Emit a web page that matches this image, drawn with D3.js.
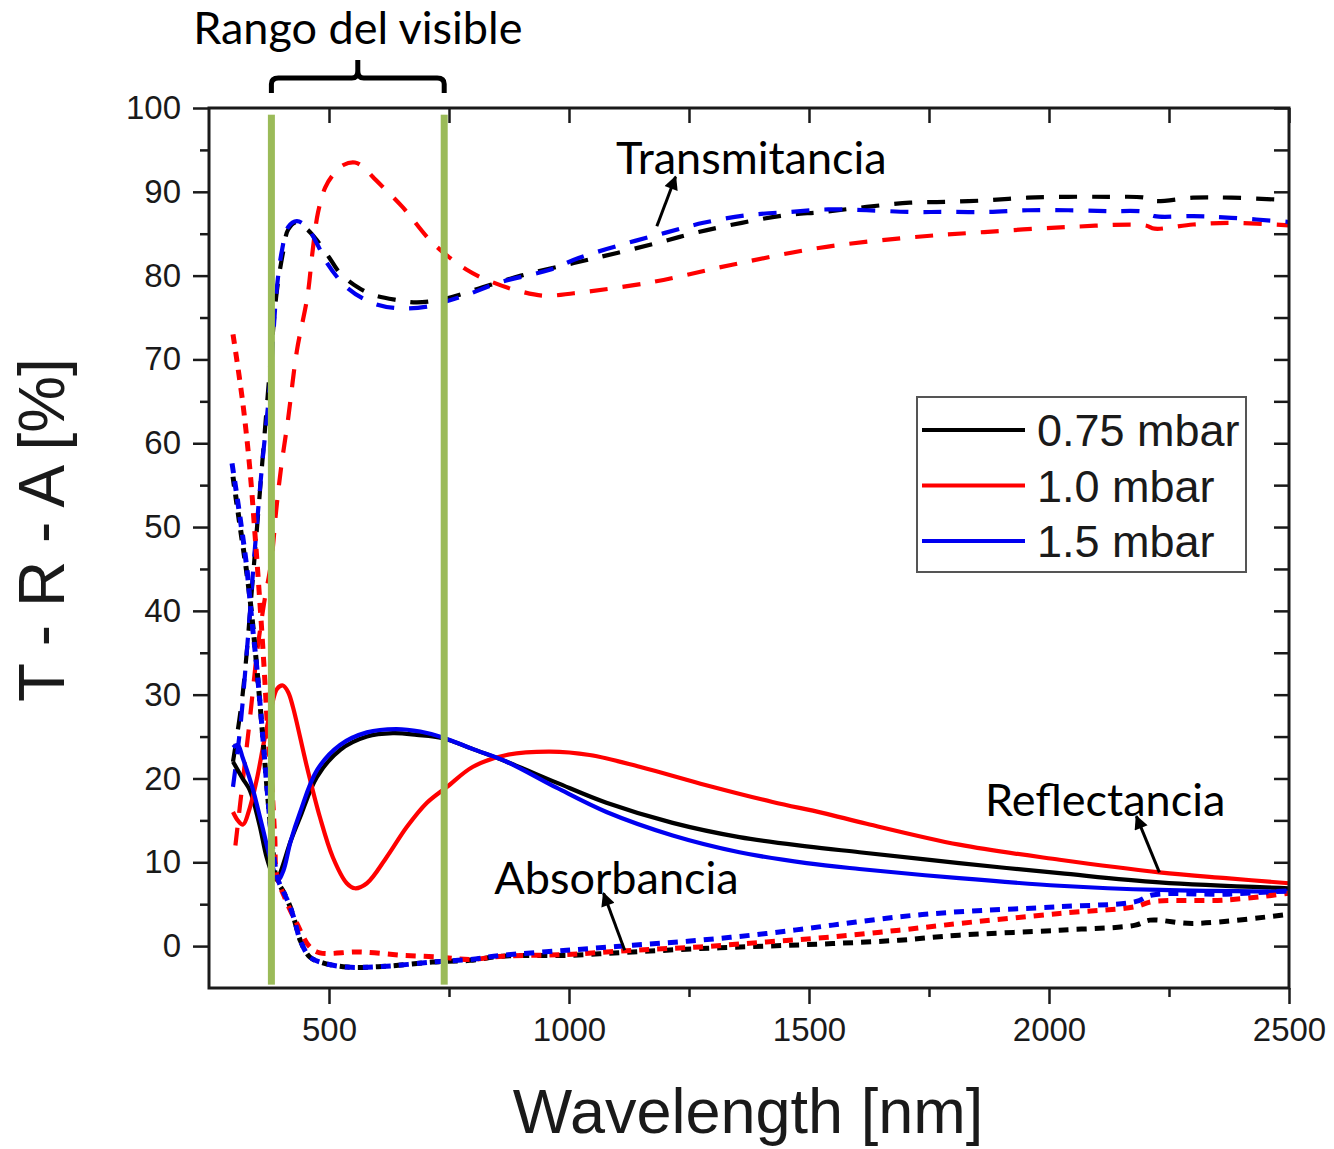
<!DOCTYPE html>
<html>
<head>
<meta charset="utf-8">
<script src="https://cdn.jsdelivr.net/npm/d3@7"></script>
<style>
    body { margin: 0; background: #fff; overflow: hidden; }
</style>
</head>
<body>
<svg id="main-svg" width="1334" height="1149"></svg>
<script>
'use strict';

// wavelength [nm], value [%]
const trans_075 = [[300,22],[320,30],[340,43],[360,57],[380,71],[391,78],[404,82.7],[415,85.5],[433,86.4],[455,85.5],[475,84.2],[500,82.2],[523,80.3],[560,78.6],[592,77.7],[640,77.1],[683,76.8],[746,77.3],[820,78.6],[900,80],[1010,81.5],[1100,82.7],[1190,84],[1270,85.2],[1360,86.3],[1450,87.2],[1530,87.6],[1620,88.2],[1710,88.7],[1790,88.8],[1875,89],[1955,89.3],[2040,89.4],[2125,89.4],[2200,89.3],[2220,88.9],[2300,89.3],[2380,89.3],[2500,89]];
const trans_100 = [[305,12],[320,19.5],[335,27],[350,35],[365,41],[380,46],[390,52],[400,57],[415,63],[433,71],[455,77.5],[466,83],[477,87.5],[492,90.5],[508,92],[530,93.2],[554,93.5],[575,92.8],[591,91.8],[653,88.2],[716,83.9],[787,80.7],[841,79.2],[900,78.1],[950,77.6],[1010,77.9],[1170,79.2],[1340,81.3],[1520,83.3],[1700,84.5],[1865,85.2],[2040,85.8],[2200,86],[2220,85.6],[2300,86.1],[2380,86.3],[2500,86]];
const trans_150 = [[300,19],[315,26],[330,36],[345,47],[360,57],[377,67],[391,78.3],[402,83],[415,85.8],[433,86.5],[454,85.8],[475,83.8],[496,81.5],[537,78.6],[592,76.7],[648,76.1],[704,76.3],[731,76.7],[787,77.7],[856,79.2],[960,80.7],[1020,82.1],[1110,83.7],[1200,85.1],[1280,86.3],[1370,87.2],[1460,87.6],[1540,87.9],[1620,87.8],[1710,87.6],[1790,87.6],[1875,87.6],[1955,87.8],[2040,87.8],[2125,87.7],[2200,87.6],[2220,87.1],[2300,87.1],[2380,86.9],[2500,86.4]];

const refl_075 = [[300,22],[320,20],[335,18.6],[355,14.5],[370,10.6],[382,8.6],[391,7.9],[400,9],[420,12.5],[440,15.4],[475,20.2],[523,23.4],[579,25],[633,25.4],[683,25.2],[737,24.8],[800,23.5],[870,22],[974,19.5],[1078,17.1],[1216,14.7],[1355,13],[1495,11.9],[1605,11.2],[1813,9.9],[2022,8.7],[2230,7.6],[2500,6.9]];
const refl_100 = [[300,16],[310,15],[321,14.5],[335,16.5],[350,20],[365,24.5],[380,28.5],[392,30.7],[404,31.1],[415,30.3],[425,28.5],[454,21.4],[481,15.4],[508,10.6],[537,7.5],[554,6.9],[579,7.5],[620,10.6],[662,14.2],[704,17.1],[746,19],[800,21.4],[870,22.8],[960,23.2],[1043,22.8],[1147,21.4],[1286,19.2],[1424,17.2],[1528,15.9],[1620,14.6],[1813,12.1],[2022,10.3],[2230,8.8],[2369,8.1],[2500,7.5]];
const refl_150 = [[300,23.7],[310,24],[320,22.5],[340,19],[360,14.5],[380,10],[394,7.9],[405,9],[420,12.5],[440,16],[475,21],[523,24],[579,25.5],[640,25.9],[690,25.6],[737,24.9],[800,23.5],[870,22],[974,18.9],[1078,16],[1216,13.2],[1355,11.2],[1495,9.9],[1605,9.2],[1813,8.1],[2022,7.2],[2230,6.7],[2500,6.5]];

const abs_075 = [[300,56],[315,50],[330,44],[340,39],[350,33],[362,25],[373,17.4],[383,11.5],[391,7.9],[405,6.5],[419,4.7],[430,2.7],[440,0.7],[460,-1.3],[487,-2],[537,-2.5],[620,-2.4],[716,-1.9],[793,-1.7],[862,-1.2],[1000,-1.1],[1133,-0.7],[1272,-0.3],[1411,0],[1549,0.3],[1688,0.7],[1813,1.3],[2022,1.9],[2180,2.5],[2210,3.1],[2300,2.7],[2500,3.8]];
const abs_100 = [[300,73],[320,65],[335,57],[346,49],[356,41],[365,33],[372,26],[381,19],[387,13],[391,8.5],[410,5.5],[433,2.7],[460,-0.1],[481,-0.8],[564,-0.7],[654,-1.1],[731,-1.3],[793,-1.6],[862,-1.2],[995,-1],[1133,-0.5],[1272,-0.1],[1411,0.5],[1549,1.1],[1688,1.9],[1813,2.7],[2022,3.9],[2180,4.7],[2215,5.3],[2369,5.5],[2500,6.3]];
const abs_150 = [[298,57.6],[315,51],[329,45],[339,39],[350,33],[362,25],[373,17.4],[383,11.5],[394,7.9],[405,6.5],[419,4.7],[430,2.7],[440,0.7],[460,-1.3],[487,-2],[537,-2.5],[620,-2.4],[716,-1.9],[793,-1.6],[862,-1.1],[995,-0.5],[1133,0.1],[1272,0.7],[1411,1.5],[1549,2.5],[1688,3.5],[1813,4.1],[2022,4.7],[2180,5.3],[2215,6.1],[2369,6.2],[2500,6.6]];

const pressures = ['0.75 mbar', '1.0 mbar', '1.5 mbar'];
const x_major = [500, 1000, 1500, 2000, 2500];
const x_minor = [750, 1250, 1750, 2250];
const y_major = [0, 10, 20, 30, 40, 50, 60, 70, 80, 90, 100];
const y_minor = [5, 15, 25, 35, 45, 55, 65, 75, 85, 95];
const visible_range = [380, 740];

const colors = {'0.75 mbar': '#000000', '1.0 mbar': '#ff0000', '1.5 mbar': '#0000f0'};
const green = '#9bbb59';

const svg = d3.select('#main-svg');
const x = d3.scaleLinear().domain([250, 2500]).range([209, 1289]);
const y = d3.scaleLinear().domain([-5, 100]).range([988, 108]);

const series = [
    {data: trans_075, p: '0.75 mbar', kind: 'T'},
    {data: trans_100, p: '1.0 mbar', kind: 'T'},
    {data: trans_150, p: '1.5 mbar', kind: 'T'},
    {data: refl_075, p: '0.75 mbar', kind: 'R'},
    {data: refl_100, p: '1.0 mbar', kind: 'R'},
    {data: refl_150, p: '1.5 mbar', kind: 'R'},
    {data: abs_075, p: '0.75 mbar', kind: 'A'},
    {data: abs_100, p: '1.0 mbar', kind: 'A'},
    {data: abs_150, p: '1.5 mbar', kind: 'A'},
];
const styles = {
    'T': {width: 4.2, dash: '18,15'},
    'R': {width: 4.2, dash: null},
    'A': {width: 5, dash: '10,8'},
};

const line = d3.line()
    .x(d => x(d[0]))
    .y(d => y(d[1]))
    .curve(d3.curveCatmullRom.alpha(0.5));

// curves
svg.append('g').selectAll('path')
    .data(series)
    .enter().append('path')
    .attr('d', s => line(s.data))
    .attr('fill', 'none')
    .attr('stroke', s => colors[s.p])
    .attr('stroke-width', s => styles[s.kind].width)
    .attr('stroke-dasharray', s => styles[s.kind].dash)
    .attr('stroke-linecap', 'butt');

// visible range bars
svg.append('g').selectAll('rect')
    .data(visible_range)
    .enter().append('rect')
    .attr('x', d => x(d) - 3.5)
    .attr('width', 7)
    .attr('y', y(99.2))
    .attr('height', y(-4.6) - y(99.2))
    .attr('fill', green);

// axes
const tick_font = '"Liberation Sans", Arial, sans-serif';
const style_axis = (g) => {
    g.select('.domain').remove();
    g.selectAll('line').attr('stroke', '#1a1a1a').attr('stroke-width', 2.5);
    g.selectAll('text').attr('fill', '#1a1a1a').style('font-family', tick_font).style('font-size', '33px');
};

svg.append('g').attr('transform', `translate(0,${y(-5)})`)
    .call(d3.axisBottom(x).tickValues(x_minor).tickSize(9).tickFormat(''))
    .call(style_axis);
svg.append('g').attr('transform', `translate(0,${y(-5)})`)
    .call(d3.axisBottom(x).tickValues(x_major).tickSize(16).tickPadding(14).tickFormat(d3.format('d')))
    .call(style_axis);
svg.append('g').attr('transform', `translate(0,${y(100)})`)
    .call(d3.axisTop(x).tickValues(x_major.concat(x_minor)).tickSize(-15).tickFormat(''))
    .call(style_axis);

svg.append('g').attr('transform', `translate(${x(250)},0)`)
    .call(d3.axisLeft(y).tickValues(y_minor).tickSize(9).tickFormat(''))
    .call(style_axis);
svg.append('g').attr('transform', `translate(${x(250)},0)`)
    .call(d3.axisLeft(y).tickValues(y_major).tickSize(16).tickPadding(12).tickFormat(d3.format('d')))
    .call(style_axis);
svg.append('g').attr('transform', `translate(${x(2500)},0)`)
    .call(d3.axisRight(y).tickValues(y_major.concat(y_minor)).tickSize(-15).tickFormat(''))
    .call(style_axis);

// frame
svg.append('rect')
    .attr('x', x(250)).attr('y', y(100))
    .attr('width', x(2500) - x(250)).attr('height', y(-5) - y(100))
    .attr('fill', 'none').attr('stroke', '#1a1a1a').attr('stroke-width', 3);

// axis titles
svg.append('text')
    .attr('x', 748).attr('y', 1133)
    .attr('text-anchor', 'middle')
    .style('font-family', tick_font).style('font-size', '63px').attr('fill', '#1a1a1a')
    .text('Wavelength [nm]');
svg.append('text')
    .attr('transform', 'translate(64,530) rotate(-90)')
    .attr('text-anchor', 'middle')
    .style('font-family', tick_font).style('font-size', '64px').attr('fill', '#1a1a1a')
    .text('T - R - A [%]');

// legend
const legend = svg.append('g').attr('transform', 'translate(917,397)');
legend.append('rect')
    .attr('width', 329).attr('height', 175)
    .attr('fill', '#fff').attr('stroke', '#555').attr('stroke-width', 2);
pressures.forEach((p, i) => {
    const ly = 33 + i * 55.5;
    legend.append('line')
        .attr('x1', 5).attr('x2', 108).attr('y1', ly).attr('y2', ly)
        .attr('stroke', colors[p]).attr('stroke-width', 4);
    legend.append('text')
        .attr('x', 120).attr('y', ly + 16)
        .style('font-family', tick_font).style('font-size', '45px').attr('fill', '#1a1a1a')
        .text(p);
});

// annotations
const note_font = 'Lato, "Open Sans", sans-serif';
svg.append('defs').append('marker')
    .attr('id', 'head')
    .attr('viewBox', '0 0 10 10')
    .attr('refX', 9).attr('refY', 5)
    .attr('markerUnits', 'userSpaceOnUse')
    .attr('markerWidth', 16).attr('markerHeight', 14)
    .attr('orient', 'auto')
    .append('path').attr('d', 'M0,0 L10,5 L0,10 Z').attr('fill', '#000');

const notes = [
    {label: 'Transmitancia', tx: 1380, ty: 94.0, from: [1183, 85.9], to: [1222, 91.8]},
    {label: 'Reflectancia', tx: 2117, ty: 17.4, from: [2230, 8.8], to: [2182, 15.5]},
    {label: 'Absorbancia', tx: 1099, ty: 8.1, from: [1116, -0.5], to: [1072, 6.3]},
];
notes.forEach(n => {
    svg.append('text')
        .attr('x', x(n.tx)).attr('y', y(n.ty))
        .attr('dy', '0.36em')
        .attr('text-anchor', 'middle')
        .style('font-family', note_font).style('font-size', '45px').attr('fill', '#000')
        .text(n.label);
    svg.append('line')
        .attr('x1', x(n.from[0])).attr('y1', y(n.from[1]))
        .attr('x2', x(n.to[0])).attr('y2', y(n.to[1]))
        .attr('stroke', '#000').attr('stroke-width', 3)
        .attr('marker-end', 'url(#head)');
});

// brace over the visible range
const bx0 = x(visible_range[0]), bx1 = x(visible_range[1]);
const bmid = (bx0 + bx1) / 2;
const brace = `M${bx0},93 L${bx0},84 Q${bx0},78 ${bx0 + 7},78 L${bmid - 6},78 Q${bmid},78 ${bmid},71 L${bmid},60`
    + ` M${bmid},71 Q${bmid},78 ${bmid + 6},78 L${bx1 - 7},78 Q${bx1},78 ${bx1},84 L${bx1},93`;
svg.append('path')
    .attr('d', brace)
    .attr('fill', 'none').attr('stroke', '#000').attr('stroke-width', 5);
svg.append('text')
    .attr('x', bmid).attr('y', 44)
    .attr('text-anchor', 'middle')
    .style('font-family', note_font).style('font-size', '45px').attr('fill', '#000')
    .text('Rango del visible');
</script>
</body>
</html>
